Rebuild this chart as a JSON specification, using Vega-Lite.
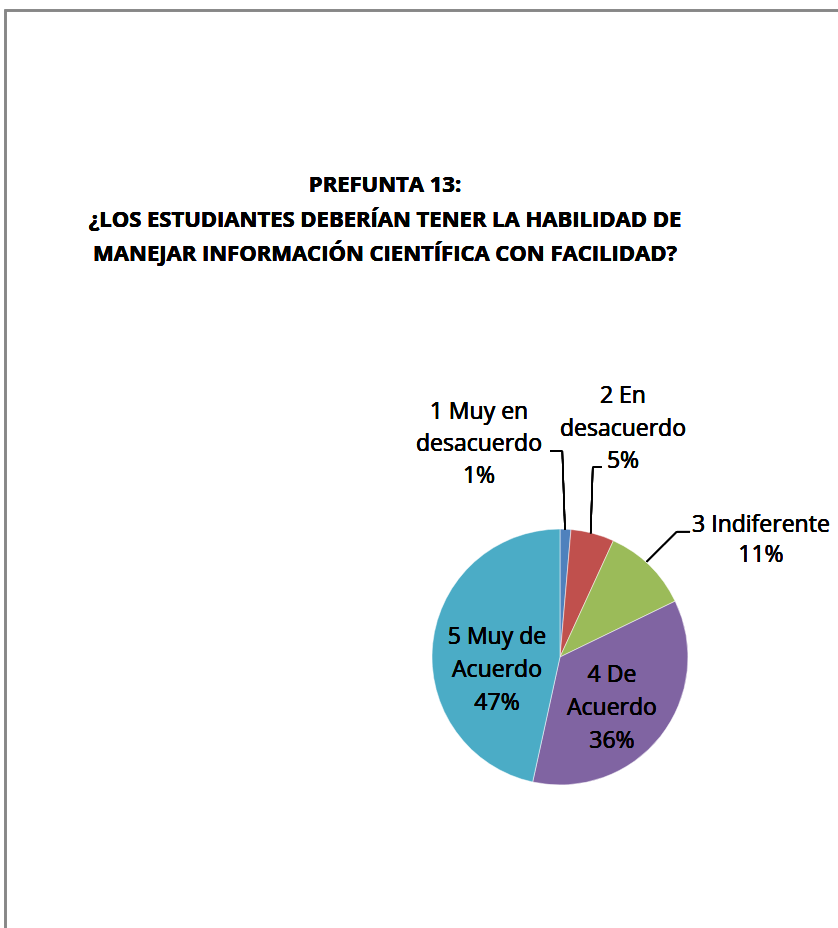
{
  "$schema": "https://vega.github.io/schema/vega-lite/v6.json",
  "width": 838,
  "height": 928,
  "autosize": {"type": "none"},
  "padding": 0,
  "background": "white",
  "config": {"view": {"stroke": null}},
  "data": {
    "values": [
      {"categoria": "1 Muy en desacuerdo", "respuestas": 1},
      {"categoria": "2 En desacuerdo", "respuestas": 4},
      {"categoria": "3 Indiferente", "respuestas": 8},
      {"categoria": "4 De Acuerdo", "respuestas": 26},
      {"categoria": "5 Muy de Acuerdo", "respuestas": 34}
    ]
  },
  "encoding": {
    "x": {"datum": 0, "type": "quantitative", "scale": {"domain": [-4.375, 2.172], "zero": false, "nice": false}, "axis": null},
    "y": {"datum": 0, "type": "quantitative", "scale": {"domain": [-2.117, 5.133], "zero": false, "nice": false}, "axis": null}
  },
  "layer": [
    {
      "mark": {"type": "rect", "fill": null, "stroke": "#878787", "strokeWidth": 2, "clip": false},
      "encoding": {
        "x": {"datum": -4.332},
        "y": {"datum": 5.051},
        "x2": {"datum": 3},
        "y2": {"datum": -3}
      }
    },
    {
      "mark": {"type": "arc", "outerRadius": 128, "stroke": "white", "strokeWidth": 0.5},
      "encoding": {
        "theta": {"field": "respuestas", "type": "quantitative", "stack": true},
        "order": {"field": "categoria", "sort": "ascending"},
        "color": {
          "field": "categoria",
          "type": "nominal",
          "scale": {"range": ["#4F81BD", "#C0504D", "#9BBB59", "#8064A2", "#4BACC6"]},
          "legend": null
        }
      }
    },
    {"mark": {"type": "rule", "color": "black", "strokeWidth": 1.5}, "encoding": {"x": {"datum": -0.078}, "y": {"datum": 1.609}, "x2": {"datum": 0.018}, "y2": {"datum": 1.609}}},
    {"mark": {"type": "rule", "color": "black", "strokeWidth": 1.5}, "encoding": {"x": {"datum": 0.018}, "y": {"datum": 1.609}, "x2": {"datum": 0.039}, "y2": {"datum": 0.992}}},
    {"mark": {"type": "rule", "color": "black", "strokeWidth": 1.5}, "encoding": {"x": {"datum": 0.326}, "y": {"datum": 1.484}, "x2": {"datum": 0.256}, "y2": {"datum": 1.484}}},
    {"mark": {"type": "rule", "color": "black", "strokeWidth": 1.5}, "encoding": {"x": {"datum": 0.256}, "y": {"datum": 1.484}, "x2": {"datum": 0.240}, "y2": {"datum": 0.966}}},
    {"mark": {"type": "rule", "color": "black", "strokeWidth": 1.5}, "encoding": {"x": {"datum": 1.016}, "y": {"datum": 0.979}, "x2": {"datum": 0.912}, "y2": {"datum": 0.979}}},
    {"mark": {"type": "rule", "color": "black", "strokeWidth": 1.5}, "encoding": {"x": {"datum": 0.912}, "y": {"datum": 0.979}, "x2": {"datum": 0.677}, "y2": {"datum": 0.744}}},
    {
      "mark": {"type": "text", "text": ["PREFUNTA 13:", "¿LOS ESTUDIANTES DEBERÍAN TENER LA HABILIDAD DE", "MANEJAR INFORMACIÓN CIENTÍFICA CON FACILIDAD?"], "font": "Open Sans", "fontWeight": "bold", "fontSize": 22, "lineHeight": 34.5, "align": "center", "baseline": "middle", "color": "black"},
      "encoding": {"x": {"datum": -1.367}, "y": {"datum": 3.6875}}
    },
    {
      "mark": {"type": "text", "text": ["1 Muy en", "desacuerdo", "1%"], "font": "Open Sans", "fontSize": 23, "lineHeight": 32, "align": "center", "baseline": "middle", "color": "black"},
      "encoding": {"x": {"datum": -0.633}, "y": {"datum": 1.914}}
    },
    {
      "mark": {"type": "text", "text": ["2 En", "desacuerdo", "5%"], "font": "Open Sans", "fontSize": 23, "lineHeight": 32.5, "align": "center", "baseline": "middle", "color": "black"},
      "encoding": {"x": {"datum": 0.492}, "y": {"datum": 2.039}}
    },
    {
      "mark": {"type": "text", "text": ["3 Indiferente", "11%"], "font": "Open Sans", "fontSize": 23, "lineHeight": 30, "align": "center", "baseline": "middle", "color": "black"},
      "encoding": {"x": {"datum": 1.57}, "y": {"datum": 1.031}}
    },
    {
      "mark": {"type": "text", "text": ["4 De", "Acuerdo", "36%"], "font": "Open Sans", "fontSize": 23, "lineHeight": 33, "align": "center", "baseline": "middle", "color": "black"},
      "encoding": {"x": {"datum": 0.406}, "y": {"datum": -0.141}}
    },
    {
      "mark": {"type": "text", "text": ["5 Muy de", "Acuerdo", "47%"], "font": "Open Sans", "fontSize": 23, "lineHeight": 33, "align": "center", "baseline": "middle", "color": "black"},
      "encoding": {"x": {"datum": -0.492}, "y": {"datum": 0.156}}
    }
  ]
}
